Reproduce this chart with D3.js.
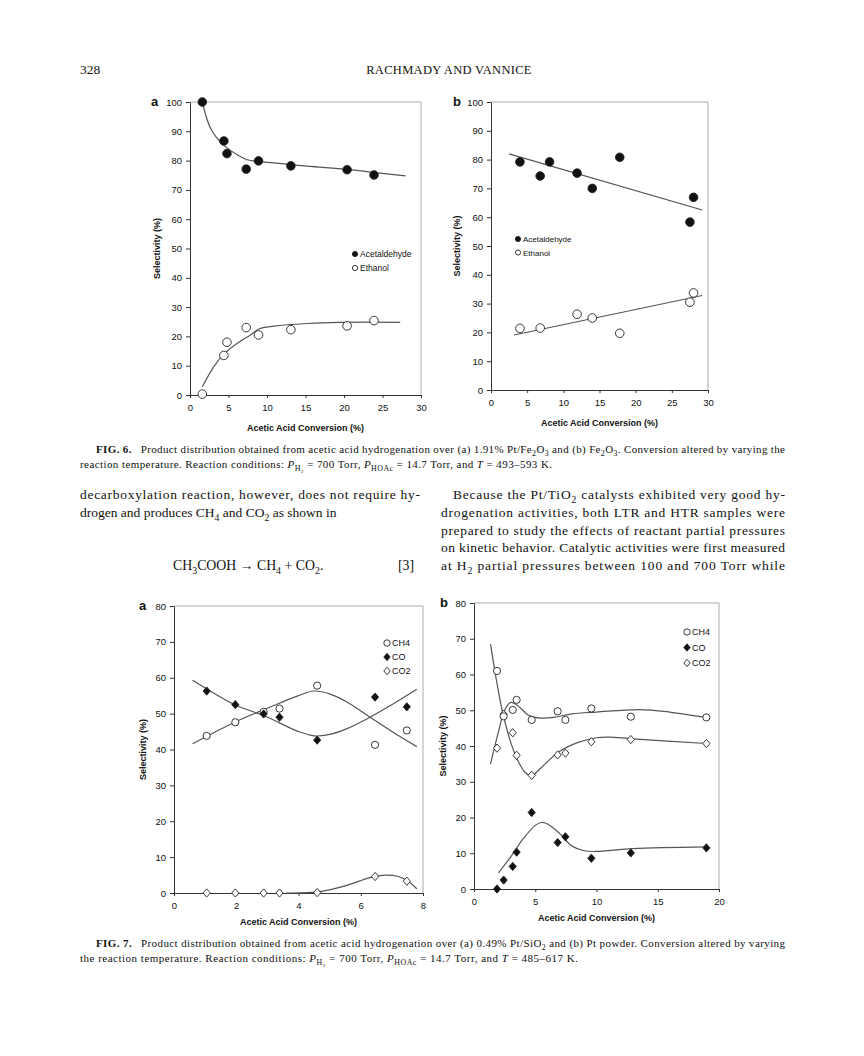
<!DOCTYPE html>
<html>
<head>
<meta charset="utf-8">
<script src="https://cdn.jsdelivr.net/npm/d3@7"></script>
<style>
body { margin: 0; background: #fff; }
svg text { fill: #111; }
</style>
</head>
<body>
<svg id="page" width="864" height="1056"></svg>
<script>
// ---- data ----
// Fig 6a (1.91% Pt/Fe2O3)
var f6aAcetaldehyde = [[1.6,100],[4.4,86.7],[4.8,82.4],[7.3,77.1],[8.9,79.9],[13.1,78.2],[20.4,76.9],[23.9,75.1]];
var f6aEthanol = [[1.6,0.3],[4.4,13.5],[4.8,18],[7.3,23],[8.9,20.5],[13.1,22.3],[20.4,23.6],[23.9,25.4]];
var f6aAcetaldehydeFit = [[1.6,100],[2.7,90.9],[4.4,85.2],[6.6,81.3],[7.4,80.3],[10.9,79.2],[15.2,78.1],[20.4,77],[23.8,76],[28,74.8]];
var f6aEthanolFit = [[1.6,2.8],[3.1,9.7],[4.5,14.2],[6.1,17.6],[7.85,20.5],[9,22.6],[10.9,23.5],[15.2,24.4],[19.5,24.8],[27.3,24.8]];

// Fig 6b (Fe2O3)
var f6bAcetaldehyde = [[4.0,79.2],[6.8,74.3],[8.1,79.2],[11.9,75.3],[14.0,70.0],[17.8,80.8],[27.5,58.3],[28.0,66.9]];
var f6bEthanol = [[4.0,21.4],[6.8,21.5],[11.9,26.3],[14.0,25.0],[17.8,19.7],[27.5,30.5],[28.0,33.7]];
var f6bAcetaldehydeFit = [[2.5,82.0],[29.2,62.5]];
var f6bEthanolFit = [[3.2,19.1],[29.2,32.8]];

// Fig 7a (0.49% Pt/SiO2)
var f7aCH4 = [[1.05,43.8],[1.97,47.6],[2.88,50.5],[3.39,51.4],[4.6,57.8],[6.46,41.3],[7.48,45.3]];
var f7aCO = [[1.05,56.3],[1.97,52.5],[2.88,49.9],[3.39,49.0],[4.6,42.6],[6.46,54.6],[7.48,51.9]];
var f7aCO2 = [[1.05,0],[1.97,0],[2.88,0],[3.39,0],[4.6,0.1],[6.46,4.6],[7.48,3.3]];
var f7aCH4Fit = [[0.6,41.6],[2,47.8],[3,51.5],[4,55],[4.5,56.3],[5,55.5],[5.5,53.5],[6.3,49],[7,45],[7.8,40.8]];
var f7aCOFit = [[0.6,59.3],[1.97,52.4],[2.9,49.4],[4,45],[4.5,43.8],[5,44.2],[5.5,45.6],[6.3,49],[7,52.5],[7.8,56.8]];
var f7aCO2Fit = [[3.6,0],[4.6,0.3],[5.5,2],[6.3,4.3],[6.8,5.0],[7.2,4.6],[7.5,3.4],[7.8,1.2]];

// Fig 7b (Pt powder)
var f7bCH4 = [[1.88,61.0],[2.42,48.3],[3.16,50.1],[3.48,52.9],[4.71,47.3],[6.83,49.7],[7.46,47.3],[9.58,50.5],[12.8,48.2],[18.97,48.0]];
var f7bCO = [[1.88,0],[2.42,2.5],[3.16,6.3],[3.48,10.3],[4.71,21.4],[6.83,13.0],[7.46,14.6],[9.58,8.6],[12.8,10.1],[18.97,11.5]];
var f7bCO2 = [[1.88,39.4],[2.42,48.9],[3.16,43.7],[3.48,37.4],[4.71,31.8],[6.83,37.5],[7.46,38.0],[9.58,41.2],[12.8,41.8],[18.97,40.7]];
var f7bCH4Fit = [[1.35,35],[2,44],[2.5,50],[3,52.2],[3.5,51.5],[4.5,48.5],[5.5,47.8],[6.5,48],[8,49],[10,49.5],[13.5,50.2],[16,49.5],[19,48]];
var f7bCOFit = [[2,4.5],[3,9],[4,14],[5,17.8],[5.5,18.6],[6,18.2],[7,15.5],[8,12],[9,10.7],[10,10.5],[13,11.3],[19,11.8]];
var f7bCO2Fit = [[1.35,68.5],[1.8,59],[2.3,50],[3,41],[3.5,36.5],[4.2,32.5],[4.7,31.7],[5.5,34],[7,38.5],[8.5,41],[10,42.3],[11,42.5],[13,42],[19,40.7]];

// ticks
var ticks6x = [0,5,10,15,20,25,30];
var ticks6y = [0,10,20,30,40,50,60,70,80,90,100];
var ticks7ax = [0,2,4,6,8];
var ticks7bx = [0,5,10,15,20];
var ticks7y = [0,10,20,30,40,50,60,70,80];

var legend6 = ['Acetaldehyde','Ethanol'];
var legend7 = ['CH4','CO','CO2'];

var svg = d3.select('#page');
svg.append('rect').attr('width',864).attr('height',1056).attr('fill','#fff');

var sans = 'Liberation Sans, Arial, sans-serif';
var serif = 'Liberation Serif, Times New Roman, serif';

function diamond(r) {
  var h = r * 1.15;
  return 'M0,' + (-h) + 'L' + r + ',0L0,' + h + 'L' + (-r) + ',0Z';
}

function drawMarker(g, x, y, pts, kind, r) {
  pts.forEach(function(p){
    var cx = x(p[0]), cy = y(p[1]);
    if (kind === 'dot' || kind === 'ring') {
      g.append('circle').attr('cx',cx).attr('cy',cy).attr('r',r)
        .attr('fill', kind === 'dot' ? '#111' : '#fff')
        .attr('stroke','#222').attr('stroke-width',0.9);
    } else {
      g.append('path').attr('d', diamond(r))
        .attr('transform','translate('+cx+','+cy+')')
        .attr('fill', kind === 'fdia' ? '#111' : '#fff')
        .attr('stroke','#222').attr('stroke-width',0.9);
    }
  });
}

function panel(c) {
  var g = svg.append('g');
  var x = d3.scaleLinear().domain(c.xd).range([c.l, c.r]);
  var y = d3.scaleLinear().domain(c.yd).range([c.b, c.t]);

  // light frame top / right
  g.append('path').attr('d','M'+c.l+','+c.t+'H'+c.r+'V'+c.b)
    .attr('fill','none').attr('stroke','#aaa').attr('stroke-width',1);

  var ay = g.append('g').attr('transform','translate('+c.l+',0)')
    .call(d3.axisLeft(y).tickValues(c.yt).tickSize(4).tickSizeOuter(0).tickPadding(4));
  var ax = g.append('g').attr('transform','translate(0,'+c.b+')')
    .call(d3.axisBottom(x).tickValues(c.xt).tickSize(3).tickSizeOuter(0).tickPadding(6));
  [ay, ax].forEach(function(a){
    a.selectAll('path,line').attr('stroke','#333').attr('stroke-width',1);
    a.selectAll('text').attr('font-family',sans).attr('font-size',9.5).attr('fill','#111');
  });

  // fitted curves
  var line = d3.line().x(function(d){return x(d[0]);}).y(function(d){return y(d[1]);})
    .curve(d3.curveCatmullRom.alpha(0.5));
  c.fits.forEach(function(f){
    g.append('path').attr('d', line(f)).attr('fill','none')
      .attr('stroke','#555').attr('stroke-width',1.2);
  });
  c.series.forEach(function(s){ drawMarker(g, x, y, s.pts, s.kind, c.mr); });

  // legend
  c.legend.forEach(function(s, i){
    var ly = c.legY + i*c.legStep;
    drawMarker(g, function(){return c.legX;}, function(){return ly;}, [[0,0]], s.kind, c.legR);
    g.append('text').attr('x', c.legX + 5).attr('y', ly + 3).text(s.name)
      .attr('font-family',sans).attr('font-size',c.legFs);
  });

  // labels
  g.append('text').attr('x', c.letterX).attr('y', c.t + 4).text(c.letter)
    .attr('font-family',sans).attr('font-weight','bold').attr('font-size',13);
  g.append('text').attr('transform','translate('+c.ytx+','+((c.t+c.b)/2)+') rotate(-90)')
    .attr('text-anchor','middle').text('Selectivity (%)')
    .attr('font-family',sans).attr('font-weight','bold').attr('font-size',9);
  g.append('text').attr('x',(c.l+c.r)/2).attr('y',c.b+c.xty).attr('text-anchor','middle')
    .text('Acetic Acid Conversion (%)')
    .attr('font-family',sans).attr('font-weight','bold').attr('font-size',9);
}

panel({l:190, r:421, t:102, b:395, xd:[0,30], yd:[0,100], xt:ticks6x, yt:ticks6y, mr:4.3,
  fits:[f6aAcetaldehydeFit, f6aEthanolFit],
  series:[{pts:f6aAcetaldehyde, kind:'dot'},{pts:f6aEthanol, kind:'ring'}],
  legend:[{name:legend6[0],kind:'dot'},{name:legend6[1],kind:'ring'}],
  legX:355, legY:254, legStep:14, legR:2.6, legFs:8.5,
  letter:'a', letterX:151, ytx:160, xty:36});

panel({l:491, r:708, t:102, b:390, xd:[0,30], yd:[0,100], xt:ticks6x, yt:ticks6y, mr:4.3,
  fits:[f6bAcetaldehydeFit, f6bEthanolFit],
  series:[{pts:f6bAcetaldehyde, kind:'dot'},{pts:f6bEthanol, kind:'ring'}],
  legend:[{name:legend6[0],kind:'dot'},{name:legend6[1],kind:'ring'}],
  legX:518, legY:239, legStep:13.5, legR:2.6, legFs:8,
  letter:'b', letterX:453, ytx:460, xty:36});

panel({l:174, r:423, t:606, b:893, xd:[0,8], yd:[0,80], xt:ticks7ax, yt:ticks7y, mr:3.6,
  fits:[f7aCH4Fit, f7aCOFit, f7aCO2Fit],
  series:[{pts:f7aCO2, kind:'odia'},{pts:f7aCH4, kind:'ring'},{pts:f7aCO, kind:'fdia'}],
  legend:[{name:legend7[0],kind:'ring'},{name:legend7[1],kind:'fdia'},{name:legend7[2],kind:'odia'}],
  legX:387, legY:643, legStep:14, legR:3.2, legFs:9,
  letter:'a', letterX:139, ytx:146, xty:32});

panel({l:474, r:719, t:603, b:889, xd:[0,20], yd:[0,80], xt:ticks7bx, yt:ticks7y, mr:3.6,
  fits:[f7bCH4Fit, f7bCOFit, f7bCO2Fit],
  series:[{pts:f7bCO2, kind:'odia'},{pts:f7bCH4, kind:'ring'},{pts:f7bCO, kind:'fdia'}],
  legend:[{name:legend7[0],kind:'ring'},{name:legend7[1],kind:'fdia'},{name:legend7[2],kind:'odia'}],
  legX:687, legY:632, legStep:15.5, legR:3.2, legFs:9,
  letter:'b', letterX:440, ytx:446, xty:32});

// ---- page text ----
// parts: plain string, {sub:'..'}, {it:'..', sub:'..'}, {b:'..'}
function textLine(x, y, parts, opts) {
  var fs = opts.fs, d = fs * 0.28, back = 0;
  var t = svg.append('text').attr('x',x).attr('y',y)
    .attr('font-family',serif).attr('font-size',fs);
  if (opts.len) t.attr('textLength',opts.len).attr('lengthAdjust','spacing');
  if (opts.anchor) t.attr('text-anchor',opts.anchor);
  function add(txt, attrs, shift) {
    var s = t.append('tspan').text(txt);
    var dy = -back + (shift || 0);
    if (dy) s.attr('dy', dy);
    back = shift || 0;
    Object.keys(attrs).forEach(function(k){ s.attr(k, attrs[k]); });
  }
  parts.forEach(function(p){
    if (typeof p === 'string') { add(p, {}); return; }
    if (p.b) { add(p.b, {'font-weight':'bold'}); return; }
    if (p.it) add(p.it, {'font-style':'italic'});
    if (p.sub) add(p.sub, {'font-size': fs * 0.72}, d);
  });
  return t;
}

textLine(80, 74, ['328'], {fs:13.5});
svg.append('text').attr('x',449).attr('y',74).attr('text-anchor','middle')
  .attr('font-family',serif).attr('font-size',12.5).attr('letter-spacing',0.3)
  .text('RACHMADY AND VANNICE');

// Fig 6 caption
textLine(96, 453, [{b:'FIG. 6.'},'\u2002 Product distribution obtained from acetic acid hydrogenation over (a) 1.91% Pt/Fe',{sub:'2'},'O',{sub:'3'},' and (b) Fe',{sub:'2'},'O',{sub:'3'},'. Conversion altered by varying the'], {fs:11, len:689});
textLine(80, 468, ['reaction temperature. Reaction conditions: ',{it:'P',sub:'H\u2082'},' = 700 Torr, ',{it:'P',sub:'HOAc'},' = 14.7 Torr, and ',{it:'T'},' = 493\u2013593 K.'], {fs:11, len:472});

// left column
textLine(80, 499, ['decarboxylation reaction, however, does not require hy-'], {fs:13.5, len:340});
textLine(80, 517, ['drogen and produces CH',{sub:'4'},' and CO',{sub:'2'},' as shown in'], {fs:13.5});
textLine(173, 570, ['CH',{sub:'3'},'COOH \u2192 CH',{sub:'4'},' + CO',{sub:'2'},'.'], {fs:13.8});
textLine(398, 570, ['[3]'], {fs:13.8});

// right column
textLine(453, 499, ['Because the Pt/TiO',{sub:'2'},' catalysts exhibited very good hy-'], {fs:13.5, len:332});
textLine(441, 517, ['drogenation activities, both LTR and HTR samples were'], {fs:13.5, len:344});
textLine(441, 535, ['prepared to study the effects of reactant partial pressures'], {fs:13.5, len:344});
textLine(441, 552, ['on kinetic behavior. Catalytic activities were first measured'], {fs:13.5, len:344});
textLine(441, 570, ['at H',{sub:'2'},' partial pressures between 100 and 700 Torr while'], {fs:13.5, len:344});

// Fig 7 caption
textLine(96, 947, [{b:'FIG. 7.'},'\u2002 Product distribution obtained from acetic acid hydrogenation over (a) 0.49% Pt/SiO',{sub:'2'},' and (b) Pt powder. Conversion altered by varying'], {fs:11, len:689});
textLine(80, 962, ['the reaction temperature. Reaction conditions: ',{it:'P',sub:'H\u2082'},' = 700 Torr, ',{it:'P',sub:'HOAc'},' = 14.7 Torr, and ',{it:'T'},' = 485\u2013617 K.'], {fs:11, len:498});
</script>
</body>
</html>
